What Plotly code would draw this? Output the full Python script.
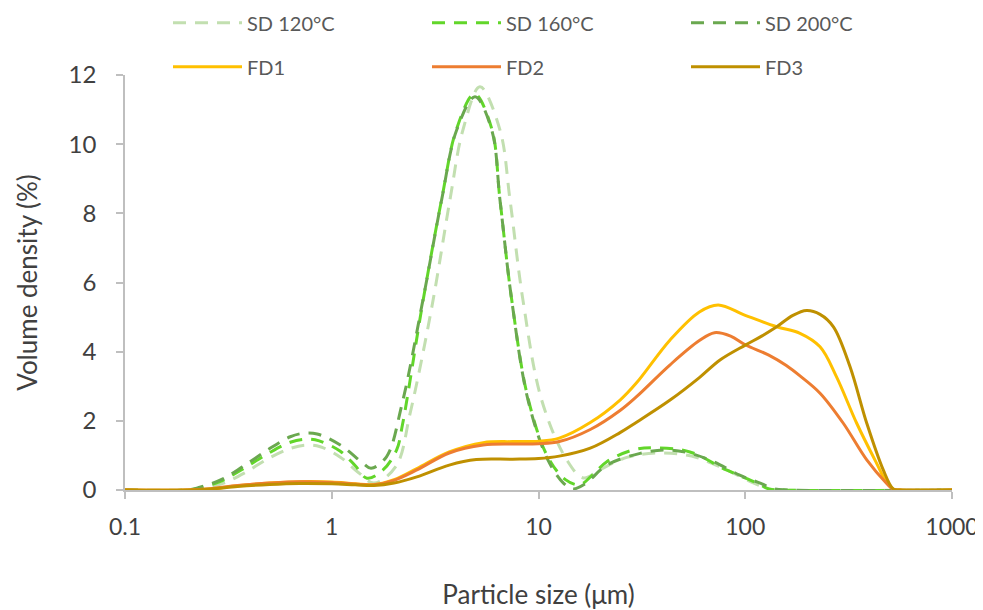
import plotly.graph_objects as go

# ---------------- data ----------------
sd120_x = [0.1, 0.2, 0.24, 0.3, 0.38, 0.49, 0.63, 0.75, 0.88, 1.1, 1.35, 1.6, 2.05, 2.39, 3.05, 3.73, 4.31, 5.21,
           6.51, 7.28, 8.41, 10.36, 13.7, 16.5, 20, 27, 38, 55, 80, 110, 130, 150, 1000]
sd120_y = [0, 0, 0.05, 0.2, 0.5, 0.9, 1.2, 1.3, 1.25, 0.95, 0.5, 0.2, 0.7, 2.2, 5.3, 8.39, 10.41, 11.66,
           10.41, 8.39, 5.49, 2.6, 0.87, 0.35, 0.6, 0.95, 1.07, 0.98, 0.6, 0.2, 0.03, 0, 0]

sd160_x = [0.1, 0.2, 0.23, 0.29, 0.37, 0.49, 0.63, 0.75, 0.87, 1.1, 1.3, 1.48, 1.77, 2.06, 2.2, 2.76, 3.40, 4.02,
           4.9, 5.94, 6.51, 7.42, 8.9, 11.1, 13.5, 15.8, 18, 21.4, 28.8, 36, 54, 81, 115, 130, 150, 1000]
sd160_y = [0, 0, 0.06, 0.25, 0.6, 1.05, 1.38, 1.47, 1.42, 1.12, 0.7, 0.34, 0.58, 1.16, 1.9, 5.45, 8.4, 10.45,
           11.45, 10.45, 8.4, 5.5, 2.65, 0.95, 0.3, 0.15, 0.4, 0.82, 1.16, 1.22, 1.1, 0.58, 0.19, 0.03, 0, 0]

sd200_x = [0.1, 0.2, 0.23, 0.29, 0.37, 0.49, 0.63, 0.73, 0.85, 1.1, 1.42, 1.55, 1.84, 2.18, 2.76, 3.40, 4.02,
           4.93, 5.94, 6.51, 7.42, 8.90, 11.1, 13.2, 14.7, 17, 21.4, 31, 41.8, 54.3, 70.2, 94, 119, 137, 160, 1000]
sd200_y = [0, 0, 0.08, 0.29, 0.67, 1.16, 1.54, 1.64, 1.62, 1.30, 0.77, 0.63, 0.96, 2.45, 5.49, 8.39, 10.41,
           11.37, 10.41, 8.39, 5.49, 2.6, 0.87, 0.2, 0.03, 0.2, 0.72, 1.06, 1.16, 1.06, 0.82, 0.43, 0.19, 0.04, 0, 0]

fd1_x = [0.1, 0.2, 0.26, 0.35, 0.5, 0.7, 1.0, 1.3, 1.6, 2.0, 2.58, 3.7, 5.4, 7.5, 10, 12.6, 17.8, 24.8, 29.8,
         43.3, 60, 74, 100, 142, 184, 230, 276, 346, 432, 480, 520, 560, 1000]
fd1_y = [0, 0, 0.03, 0.12, 0.2, 0.24, 0.23, 0.18, 0.16, 0.3, 0.62, 1.1, 1.37, 1.4, 1.41, 1.5, 1.95, 2.6, 3.1,
         4.34, 5.15, 5.35, 5.05, 4.72, 4.53, 4.14, 3.28, 1.93, 0.77, 0.25, 0.03, 0, 0]

fd2_x = [0.1, 0.2, 0.26, 0.35, 0.5, 0.7, 1.0, 1.3, 1.6, 2.0, 2.58, 3.7, 5.4, 7.5, 10, 12.6, 17.8, 24.8, 29.8,
         43.3, 60, 71, 85, 100, 130, 158, 184, 230, 298, 387, 483, 520, 560, 1000]
fd2_y = [0, 0, 0.04, 0.13, 0.2, 0.24, 0.22, 0.17, 0.15, 0.28, 0.58, 1.07, 1.3, 1.33, 1.34, 1.4, 1.75, 2.3, 2.7,
         3.62, 4.32, 4.55, 4.45, 4.2, 3.9, 3.6, 3.3, 2.8, 1.93, 0.87, 0.19, 0.02, 0, 0]

fd3_x = [0.1, 0.2, 0.26, 0.35, 0.5, 0.7, 1.0, 1.3, 1.6, 2.0, 2.58, 3.7, 5.0, 7.5, 10, 12.6, 17.8, 24.8, 29.8,
         43.3, 60, 75.5, 100, 120, 142, 170, 198, 230, 267, 321, 387, 465, 520, 560, 1000]
fd3_y = [0, 0, 0.03, 0.1, 0.16, 0.19, 0.18, 0.15, 0.13, 0.2, 0.38, 0.72, 0.88, 0.89, 0.91, 0.98, 1.21, 1.66, 1.96,
         2.6, 3.25, 3.76, 4.19, 4.45, 4.72, 5.05, 5.19, 5.08, 4.72, 3.57, 1.93, 0.58, 0.03, 0, 0]

x_tickvals = [0.1, 1, 10, 100, 1000]
x_ticktext = ["0.1", "1", "10", "100", "1000"]
y_tickvals = [0, 2, 4, 6, 8, 10, 12]

FONT = "Lato"
W, H = 975, 602   # the page body adds an 8 px margin on the top/left

fig = go.Figure()

sd_series = [
    ("SD 120°C", sd120_x, sd120_y, "#c2dfb0"),
    ("SD 160°C", sd160_x, sd160_y, "#62d62a"),
    ("SD 200°C", sd200_x, sd200_y, "#6aa84f"),
]
fd_series = [
    ("FD1", fd1_x, fd1_y, "#ffc000"),
    ("FD2", fd2_x, fd2_y, "#ed7d31"),
    ("FD3", fd3_x, fd3_y, "#bf9000"),
]

for name, xs, ys, col in sd_series:
    fig.add_trace(go.Scatter(x=xs, y=ys, name=name, mode="lines", legend="legend",
                             line=dict(color=col, width=3, dash="13px,9px", shape="spline", smoothing=1.0)))
for name, xs, ys, col in fd_series:
    fig.add_trace(go.Scatter(x=xs, y=ys, name=name, mode="lines", legend="legend2",
                             line=dict(color=col, width=3, shape="spline", smoothing=1.0)))

legend_common = dict(orientation="h", xref="container", yref="container", xanchor="left", yanchor="middle",
                     bgcolor="rgba(0,0,0,0)", font=dict(family=FONT, size=20, color="#595959"),
                     itemwidth=69, entrywidth=175, entrywidthmode="pixels", traceorder="normal")

fig.update_layout(
    width=W, height=H,
    margin=dict(l=117, r=31, t=67, b=120, autoexpand=False),
    paper_bgcolor="white", plot_bgcolor="white",
    font=dict(family=FONT, color="#404040"),
    legend=dict(x=160 / W, y=1 - 14.7 / H, **legend_common),
    legend2=dict(x=160 / W, y=1 - 58.7 / H, **legend_common),
    xaxis=dict(type="log", range=[-1, 3], tickvals=x_tickvals, ticktext=x_ticktext,
               showline=True, linecolor="#bfbfbf", linewidth=1.5, ticks="outside", ticklen=7,
               tickcolor="#bfbfbf", tickwidth=1.5, showgrid=False, zeroline=False,
               tickfont=dict(family=FONT, size=23, color="#404040"), ticklabelstandoff=9,
               title=dict(text="Particle size (μm)", font=dict(family=FONT, size=26, color="#404040"), standoff=47)),
    yaxis=dict(range=[0, 12], tickvals=y_tickvals, showline=True, linecolor="#bfbfbf", linewidth=1.5,
               ticks="outside", ticklen=7, tickcolor="#bfbfbf", tickwidth=1.5, showgrid=False, zeroline=False,
               tickfont=dict(family=FONT, size=24, color="#404040"), ticklabelstandoff=15,
               title=dict(text="Volume density (%)", font=dict(family=FONT, size=26, color="#404040"), standoff=24)),
)

fig.write_html("out.html")
